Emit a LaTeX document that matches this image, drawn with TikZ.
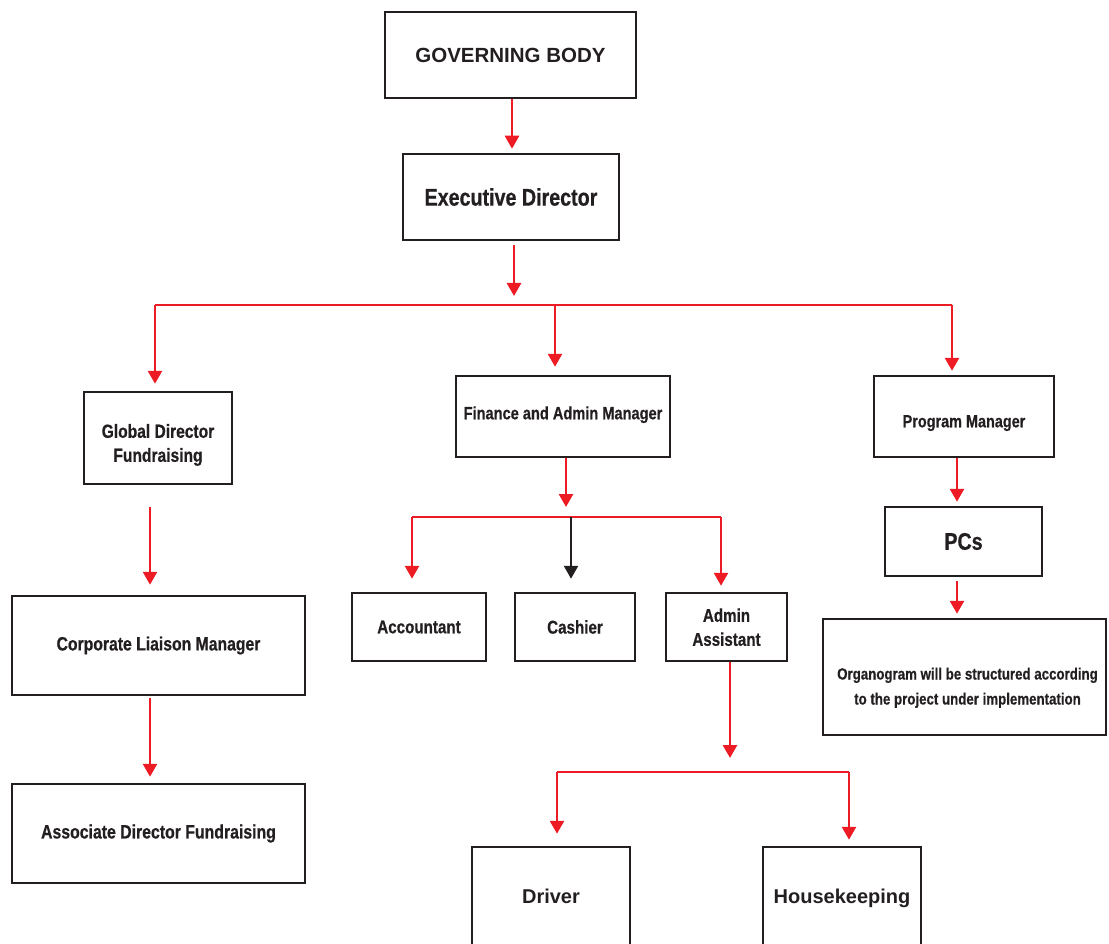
\documentclass[tikz,border=0pt]{standalone}
\usepackage{fontspec}
\setmainfont{Liberation Sans}
\newfontfamily\cond{Liberation Sans}[FakeStretch=0.82, BoldFeatures={FakeBold=0.6}]
\usetikzlibrary{arrows.meta}
\definecolor{redc}{RGB}{237,28,36}
\definecolor{boxc}{RGB}{35,31,32}
\newcommand{\txtshift}[2]{\raisebox{#1}[\height][\depth]{\begin{tabular}{@{}c@{}}#2\end{tabular}}}
\tikzset{
  box/.style={draw=boxc, line width=2.5pt, inner sep=0pt, align=center, text=boxc,
    font=\cond\bfseries\fontsize{18.5}{24}\selectfont},
  arr/.style={draw=redc, line width=2.7pt, -{Triangle[width=14pt,length=13pt]}},
  arrk/.style={draw=boxc, line width=2.5pt, -{Triangle[width=14pt,length=13pt]}},
  ln/.style={draw=redc, line width=2.7pt},
}
\begin{document}
\begin{tikzpicture}[x=1pt,y=-1pt]
\useasboundingbox (0,0) rectangle (1109,944);
\clip (0,0) rectangle (1109,944);
% nodes
\node[box, minimum width=251pt, minimum height=86pt, font=\bfseries\fontsize{20.5}{24}\selectfont] (gb) at (510.5,55) {GOVERNING BODY};
\node[box, minimum width=216pt, minimum height=86pt, font=\cond\bfseries\fontsize{24}{28}\selectfont] (ed) at (511,197) {Executive Director};
\node[box, minimum width=148pt, minimum height=92pt, font=\cond\bfseries\fontsize{19}{24}\selectfont] (gdf) at (158,438) {\txtshift{-7pt}{Global Director\\Fundraising}};
\node[box, minimum width=214pt, minimum height=81pt, font=\cond\bfseries\fontsize{17.8}{24}\selectfont] (fam) at (563,416.5) {\txtshift{2pt}{Finance and Admin Manager}};
\node[box, minimum width=180pt, minimum height=81pt, font=\cond\bfseries\fontsize{17.6}{24}\selectfont] (pm) at (964,416.5) {\txtshift{-6pt}{Program Manager}};
\node[box, minimum width=293pt, minimum height=99pt, font=\cond\bfseries\fontsize{19.2}{24}\selectfont] (clm) at (158.5,645.5) {Corporate Liaison Manager};
\node[box, minimum width=293pt, minimum height=99pt, font=\cond\bfseries\fontsize{19.3}{24}\selectfont] (adf) at (158.5,833.5) {Associate Director Fundraising};
\node[box, minimum width=134pt, minimum height=68pt] (acc) at (419,627) {Accountant};
\node[box, minimum width=120pt, minimum height=68pt] (cas) at (575,627) {Cashier};
\node[box, minimum width=121pt, minimum height=68pt] (aa) at (726.5,627) {\txtshift{-2pt}{Admin\\Assistant}};
\node[box, minimum width=158pt, minimum height=110pt, font=\bfseries\fontsize{20}{24}\selectfont] (drv) at (551,902) {\txtshift{3pt}{Driver}};
\node[box, minimum width=158pt, minimum height=110pt, font=\bfseries\fontsize{20}{24}\selectfont] (hk) at (842,902) {\txtshift{3pt}{Housekeeping}};
\node[box, minimum width=157pt, minimum height=69pt, font=\cond\bfseries\fontsize{24}{28}\selectfont] (pcs) at (963.5,541.5) {PCs};
\node[box, minimum width=283pt, minimum height=116pt, font=\cond\bfseries\fontsize{16.2}{25}\selectfont] (org) at (964.5,677) {\hspace*{6pt}\txtshift{-10pt}{Organogram will be structured according\\to the project under implementation}};
% junction coordinates
\coordinate (jc) at (514,296);
\coordinate (hl) at (155,305);
\coordinate (hm) at (555,305);
\coordinate (hr) at (952,305);
\coordinate (fj) at (566,507);
\coordinate (fl) at (412,517);
\coordinate (fm) at (571,517);
\coordinate (fr) at (721,517);
\coordinate (aj) at (730,758);
\coordinate (dl) at (557,772);
\coordinate (dr) at (849,772);
% connectors
\draw[arr, shorten >=4pt] (gb.south -| 512,0) -- (ed.north -| 512,0);
\draw[arr, shorten <=4pt] (ed.south -| jc) -- (jc);
\draw[ln] (hl) -- (hr);
\draw[arr, shorten >=7pt] (hl) -- (hl |- gdf.north);
\draw[arr, shorten >=8pt] (hm) -- (hm |- fam.north);
\draw[arr, shorten >=4pt] (hr) -- (hr |- pm.north);
\draw[arr, shorten <=22pt, shorten >=10pt] ([xshift=-8pt]gdf.south) -- ([xshift=-8pt]gdf.south |- clm.north);
\draw[arr, shorten <=2pt, shorten >=6pt] ([xshift=-8.5pt]clm.south) -- ([xshift=-8.5pt]clm.south |- adf.north);
\draw[arr] (fj |- fam.south) -- (fj);
\draw[ln] (fl) -- (fr);
\draw[arr, shorten >=13pt] (fl) -- (fl |- acc.north);
\draw[arrk, shorten >=13pt] (fm) -- (fm |- cas.north);
\draw[arr, shorten >=6pt] (fr) -- (fr |- aa.north);
\draw[arr] (aj |- aa.south) -- (aj);
\draw[ln] (dl) -- (dr);
\draw[arr, shorten >=12pt] (dl) -- (dl |- drv.north);
\draw[arr, shorten >=6pt] (dr) -- (dr |- hk.north);
\draw[arr, shorten >=4pt] ([xshift=-7pt]pm.south) -- ([xshift=-7pt]pm.south |- pcs.north);
\draw[arr, shorten <=4pt, shorten >=4pt] ([xshift=-6.5pt]pcs.south) -- ([xshift=-6.5pt]pcs.south |- org.north);
\end{tikzpicture}
\end{document}
